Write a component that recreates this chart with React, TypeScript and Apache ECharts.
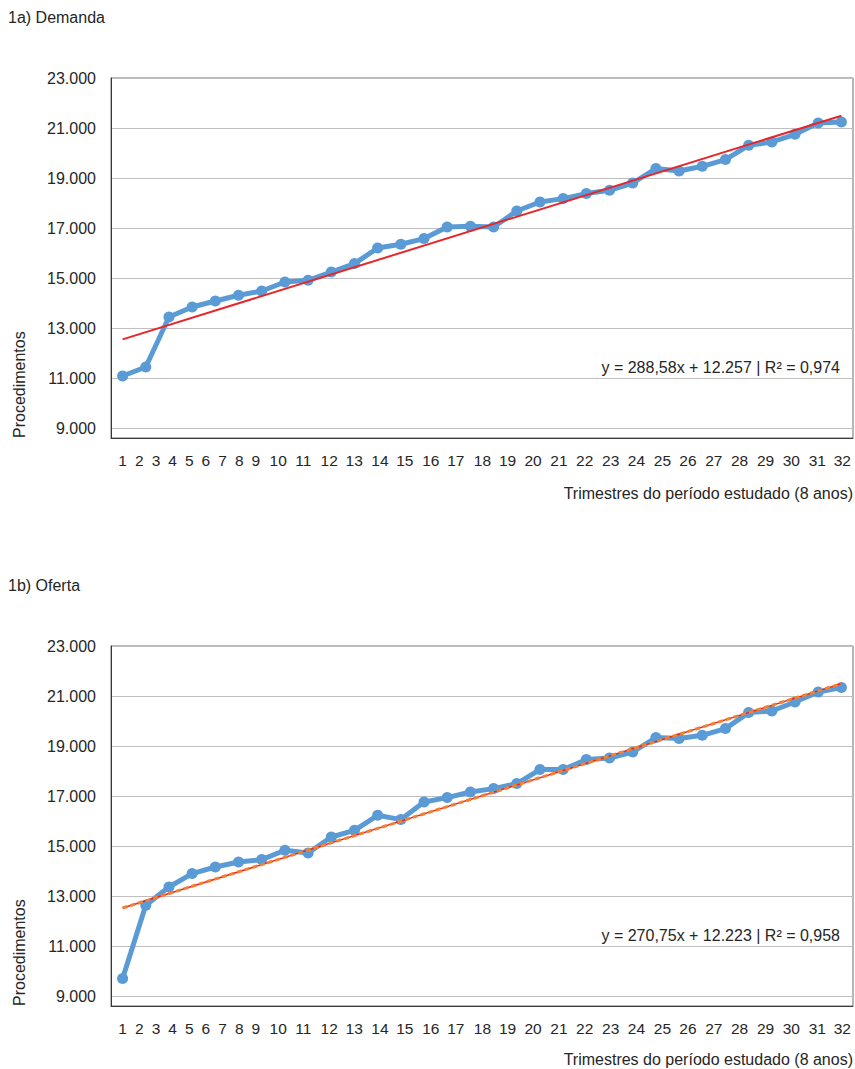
import React, { useEffect, useRef } from "react";
import * as echarts from "echarts";

// Quarters of the studied period (8 years)
const quarters = [
  "1", "2", "3", "4", "5", "6", "7", "8", "9", "10", "11", "12", "13", "14", "15", "16",
  "17", "18", "19", "20", "21", "22", "23", "24", "25", "26", "27", "28", "29", "30", "31", "32",
];

// 1a) Demanda
const demanda = [
  11080, 11440, 13440, 13840, 14080, 14308, 14480, 14840, 14908, 15240, 15576, 16200, 16348, 16576, 17040, 17068,
  17040, 17680, 18040, 18176, 18376, 18508, 18800, 19376, 19280, 19468, 19736, 20308, 20440, 20748, 21200, 21240,
];
// trend line as drawn: value at quarter 1 and at quarter 32
const demandaTrend = [12545, 21492];
const demandaEquation = "y = 288,58x + 12.257 | R² = 0,974";

// 1b) Oferta
const oferta = [
  9696, 12628, 13360, 13896, 14160, 14360, 14456, 14828, 14720, 15360, 15628, 16228, 16056, 16760, 16936, 17160,
  17296, 17496, 18056, 18056, 18456, 18520, 18760, 19336, 19296, 19428, 19696, 20336, 20400, 20760, 21160, 21336,
];
const ofertaTrend = [12520, 21495];
const ofertaEquation = "y = 270,75x + 12.223 | R² = 0,958";

// y tick labels
const yTicks = [9000, 11000, 13000, 15000, 17000, 19000, 21000, 23000];
// where the printed quarter labels sit along the axis (in quarter-band units)
const xLabelSlots = [
  0.5, 1.22, 1.94, 2.66, 3.38, 4.09, 4.81, 5.53, 6.25, 7.21, 8.29, 9.41, 10.49, 11.6, 12.67, 13.79,
  14.87, 16.02, 17.1, 18.2, 19.32, 20.43, 21.55, 22.66, 23.78, 24.88, 26.0, 27.11, 28.23, 29.34, 30.46, 31.54,
];

const FONT = "'Liberation Sans', Arial, Helvetica, sans-serif";
const TXT = "#262626";
const BLUE = "#5b9bd5";
const RED = "#e8262a";
const ORANGE = "#f4802f";
const GRID_LINE = "#bfbfbf";

const Y_MIN = 8600;
const Y_MAX = 23000;
const Y_STEP = 200;

function fmtThousands(v: number): string {
  return String(v).replace(/\B(?=(\d{3})+(?!\d))/g, ".");
}

function trendData(t: number[]) {
  return quarters.map((_, i) => (i === 0 ? t[0] : i === quarters.length - 1 ? t[1] : null));
}

export default function App() {
  const ref = useRef<HTMLDivElement>(null);

  useEffect(() => {
    document.body.style.margin = "0";
    if (!ref.current) return;
    const chart = echarts.init(ref.current, undefined, { renderer: "svg" });

    // split-line colour cycle: only lines at yTicks are visible
    const cycleLen = 2000 / Y_STEP;
    const colorCycle: string[] = [];
    for (let i = 0; i < cycleLen; i++) {
      const v = Y_MIN + i * Y_STEP;
      colorCycle.push((v - yTicks[0]) % 2000 === 0 ? GRID_LINE : "rgba(0,0,0,0)");
    }

    const tops = [78, 646];
    const plotH = 360;
    const grids = tops.map((t) => ({
      left: 111,
      top: t,
      width: 742,
      height: plotH,
      show: true,
      borderColor: "#6e6e6e",
      borderWidth: 1,
      backgroundColor: "#fff",
    }));

    const xAxes: any[] = [];
    const yAxes: any[] = [];
    [0, 1].forEach((g) => {
      xAxes.push({
        type: "category",
        gridIndex: g,
        data: quarters,
        boundaryGap: true,
        axisLine: { show: true, lineStyle: { color: "#3a3a3a", width: 1 } },
        axisTick: { show: false },
        axisLabel: { show: false },
        splitLine: { show: false },
      });
      xAxes.push({
        type: "value",
        gridIndex: g,
        min: 0,
        max: quarters.length,
        position: "bottom",
        axisLine: { show: false },
        axisTick: { show: false },
        splitLine: { show: false },
        axisLabel: {
          customValues: xLabelSlots,
          formatter: (v: number) => {
            const idx = xLabelSlots.findIndex((p) => Math.abs(p - v) < 1e-6);
            return idx >= 0 ? quarters[idx] : "";
          },
          margin: 14,
          fontSize: 15.5,
          color: TXT,
          fontFamily: FONT,
        },
      });
      yAxes.push({
        type: "value",
        gridIndex: g,
        min: Y_MIN,
        max: Y_MAX,
        interval: Y_STEP,
        axisLine: { show: true, lineStyle: { color: "#3a3a3a", width: 1 } },
        axisTick: { show: false },
        axisLabel: {
          formatter: (v: number) => (yTicks.indexOf(v) >= 0 ? fmtThousands(v) : ""),
          margin: 15,
          fontSize: 16,
          color: TXT,
          fontFamily: FONT,
        },
        splitLine: { show: true, lineStyle: { color: colorCycle, width: 1 } },
      });
    });

    const dataLine = (name: string, data: number[], g: number) => ({
      name,
      type: "line",
      xAxisIndex: g * 2,
      yAxisIndex: g,
      data,
      symbol: "circle",
      symbolSize: 11,
      showAllSymbol: true,
      itemStyle: { color: BLUE },
      lineStyle: { color: BLUE, width: 5 },
      z: 2,
    });

    const trendLine = (name: string, t: number[], g: number, color: string, width: number, dashed?: boolean) => ({
      name,
      type: "line",
      xAxisIndex: g * 2,
      yAxisIndex: g,
      data: trendData(t),
      connectNulls: true,
      showSymbol: false,
      symbol: "none",
      lineStyle: { color, width, type: dashed ? [5, 3] : "solid" },
      z: dashed ? 4 : 3,
    });

    const text = (txt: string, x: number, y: number, opts: any = {}) => ({
      type: "text",
      x,
      y,
      rotation: opts.rotation || 0,
      style: {
        text: txt,
        fill: TXT,
        fontSize: opts.fontSize || 16,
        fontFamily: FONT,
        align: opts.align || "left",
        verticalAlign: "middle",
      },
      z: 10,
    });

    chart.setOption({
      animation: false,
      backgroundColor: "#fff",
      grid: grids,
      xAxis: xAxes,
      yAxis: yAxes,
      series: [
        dataLine("Demanda", demanda, 0),
        trendLine("Tendência demanda", demandaTrend, 0, RED, 2),
        dataLine("Oferta", oferta, 1),
        trendLine("Tendência oferta", ofertaTrend, 1, RED, 1.5),
        trendLine("Tendência oferta (tracejada)", ofertaTrend, 1, ORANGE, 3, true),
      ],
      graphic: [
        text("1a) Demanda", 8, 17.5),
        text("1b) Oferta", 8, 585),
        text("Procedimentos", 19, tops[0] + plotH, { rotation: Math.PI / 2 }),
        text("Procedimentos", 19, tops[1] + plotH, { rotation: Math.PI / 2 }),
        text("Trimestres do período estudado (8 anos)", 853, tops[0] + plotH + 55, { align: "right" }),
        text("Trimestres do período estudado (8 anos)", 853, tops[1] + plotH + 53, { align: "right" }),
        text(demandaEquation, 840, 367.5, { align: "right" }),
        text(ofertaEquation, 840, 935, { align: "right" }),
      ],
    });

    return () => chart.dispose();
  }, []);

  return <div ref={ref} style={{ width: 855, height: 1069 }} />;
}
